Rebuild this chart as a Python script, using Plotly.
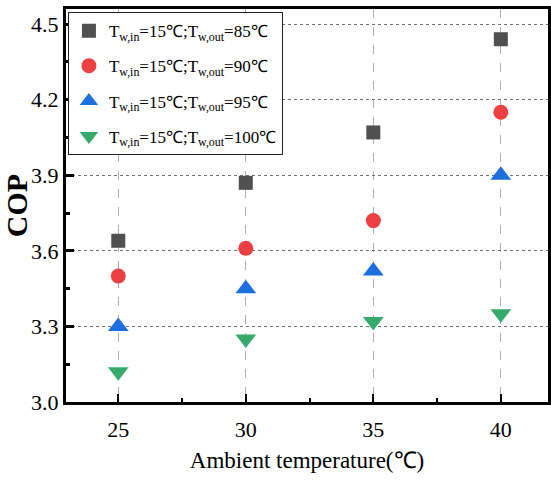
import plotly.graph_objects as go

temps = [25, 30, 35, 40]
cop_85 = [3.64, 3.87, 4.07, 4.44]
cop_90 = [3.50, 3.61, 3.72, 4.15]
cop_95 = [3.30, 3.45, 3.52, 3.90]
cop_100 = [3.12, 3.25, 3.32, 3.35]

names = [
    "T<sub>w,in</sub>=15℃;T<sub>w,out</sub>=85℃",
    "T<sub>w,in</sub>=15℃;T<sub>w,out</sub>=90℃",
    "T<sub>w,in</sub>=15℃;T<sub>w,out</sub>=95℃",
    "T<sub>w,in</sub>=15℃;T<sub>w,out</sub>=100℃",
]
series = [cop_85, cop_90, cop_95, cop_100]
symbols = ["square", "circle", "triangle-up", "triangle-down"]
sizes = [14, 15, 18, 18]
colors = ["#505050", "#EE4042", "#1C6FDF", "#36AA6A"]

FONT = "Liberation Serif, Times New Roman, serif"

fig = go.Figure()
for i, (n, ys, s, c, sz) in enumerate(zip(names, series, symbols, colors, sizes)):
    fig.add_trace(go.Scatter(
        x=temps, y=ys, mode="markers", name=n,
        marker=dict(symbol=s, color=c, size=sz, line=dict(width=0)),
        legendgroup=f"g{i}",
    ))

fig.update_layout(
    width=551, height=485,
    margin=dict(l=66, r=0, t=9, b=83),
    paper_bgcolor="white", plot_bgcolor="white",
    font=dict(family=FONT, color="black"),
    showlegend=True,
    legend=dict(
        x=0.004, y=0.992, xanchor="left", yanchor="top",
        bgcolor="white", bordercolor="#222", borderwidth=1,
        font=dict(family=FONT, size=17, color="black"),
        tracegroupgap=10, itemwidth=30,
    ),
    xaxis=dict(
        range=[22.95, 41.85],
        tickvals=temps, ticktext=[str(t) for t in temps],
        ticks="inside", ticklen=8, tickwidth=2, tickcolor="black",
        minor=dict(ticks="inside", ticklen=4, tickwidth=2, tickcolor="black",
                   tickvals=[27.5, 32.5, 37.5], showgrid=False),
        showline=True, linewidth=3, linecolor="black", mirror=True,
        showgrid=True, gridcolor="#b0b0b0", gridwidth=1, griddash="dash",
        tickfont=dict(family=FONT, size=22),
        ticklabelstandoff=6,
        title=dict(text="Ambient temperature(℃)", font=dict(family=FONT, size=23), standoff=11),
        zeroline=False,
    ),
    yaxis=dict(
        range=[3.0, 4.56],
        tickvals=[3.0, 3.3, 3.6, 3.9, 4.2, 4.5],
        ticktext=["3.0", "3.3", "3.6", "3.9", "4.2", "4.5"],
        ticks="inside", ticklen=8, tickwidth=3, tickcolor="black",
        minor=dict(ticks="inside", ticklen=4, tickwidth=3, tickcolor="black",
                   tickvals=[3.15, 3.45, 3.75, 4.05, 4.35], showgrid=False),
        showline=True, linewidth=3, linecolor="black", mirror=True,
        showgrid=True, gridcolor="#707070", gridwidth=1, griddash="dot",
        tickfont=dict(family=FONT, size=22),
        ticklabelstandoff=0,
        title=dict(text="<b>COP</b>", font=dict(family=FONT, size=30), standoff=8),
        zeroline=False,
    ),
)

fig.write_html("out.html", config={"displayModeBar": False},
               post_script="document.body.style.margin='0';document.body.style.padding='0';")
